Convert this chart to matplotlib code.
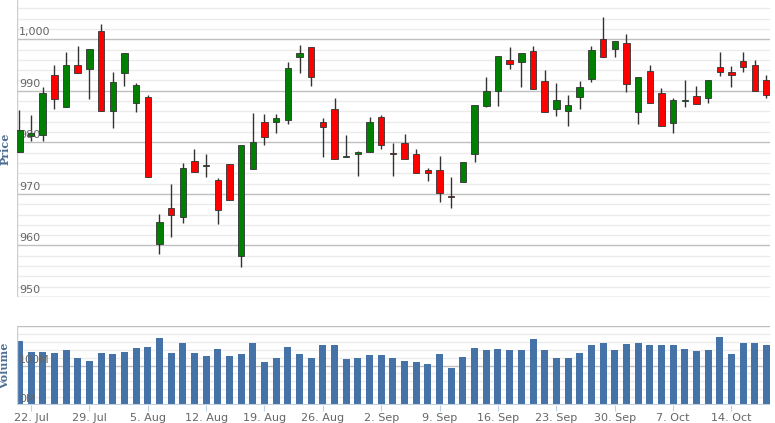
import numpy as np
import matplotlib as mpl
mpl.use('Agg')
import matplotlib.pyplot as plt
import matplotlib.transforms as mtrans

# OHLC, one entry per trading day from 19 Jul
opens = [978.2, 981.3, 981.4, 993.1, 986.8, 994.9, 994.2, 1001.6, 986.1, 993.4,
         987.6, 988.7, 960.3, 967.2, 965.6, 976.4, 975.4, 972.7, 975.8, 957.9,
         974.8, 984.0, 983.9, 984.3, 996.5, 998.4, 983.9, 986.4, 977.2, 977.7,
         978.2, 984.9, 978.0, 979.8, 977.7, 974.6, 974.6, 969.6, 972.4, 977.7,
         987.1, 990.0, 995.9, 995.5, 997.7, 991.8, 986.4, 986.1, 988.7, 992.3,
         1000.0, 998.1, 999.2, 985.8, 993.9, 989.5, 983.7, 988.0, 988.9, 988.5,
         994.6, 993.7, 995.8, 995.0, 992.1]
closes = [982.4, 981.9, 989.5, 988.4, 995.0, 993.4, 998.1, 986.1, 991.7, 997.4,
          991.1, 973.2, 964.5, 965.9, 975.1, 974.3, 975.4, 966.9, 968.8, 979.4,
          980.0, 981.1, 984.7, 994.4, 997.4, 992.6, 982.9, 976.7, 977.2, 978.2,
          984.0, 979.4, 977.7, 976.7, 974.1, 974.1, 970.2, 969.3, 976.1, 987.2,
          990.0, 996.8, 995.2, 997.3, 990.4, 985.8, 988.2, 987.2, 990.8, 997.9,
          996.6, 999.7, 991.3, 992.6, 987.6, 983.2, 988.2, 988.0, 987.4, 992.0,
          993.7, 993.1, 994.7, 990.0, 989.2]
highs = [986.3, 985.3, 990.7, 995.0, 997.6, 998.7, 998.1, 1002.9, 993.6, 997.4,
         991.5, 989.1, 966.1, 972.0, 975.9, 978.7, 977.7, 973.0, 975.8, 979.4,
         985.6, 985.5, 985.5, 995.5, 998.9, 998.4, 984.7, 988.5, 981.4, 978.4,
         984.9, 985.3, 979.9, 981.7, 978.8, 975.1, 977.4, 973.2, 976.1, 987.2,
         992.6, 996.8, 998.4, 997.3, 998.7, 994.0, 991.5, 989.2, 991.8, 998.6,
         1004.4, 999.7, 1001.0, 992.6, 995.0, 990.5, 988.5, 992.1, 990.9, 992.0,
         997.5, 994.8, 997.6, 996.0, 993.1]
lows = [978.2, 980.3, 980.3, 986.5, 986.8, 993.4, 988.4, 986.1, 982.7, 991.0,
        985.8, 973.2, 958.4, 961.7, 964.3, 974.3, 973.3, 964.1, 968.8, 955.9,
        974.8, 979.4, 981.9, 983.5, 993.5, 991.0, 977.2, 976.7, 977.2, 973.5,
        978.2, 978.8, 973.5, 976.7, 974.1, 972.5, 968.5, 967.2, 972.4, 976.1,
        986.8, 987.1, 994.2, 990.7, 990.4, 985.8, 985.1, 983.2, 986.5, 991.7,
        996.6, 996.5, 989.7, 983.6, 987.6, 983.2, 981.9, 986.9, 987.4, 987.7,
        992.8, 990.8, 993.7, 990.0, 988.5]
volume_m = [161, 134, 134, 132, 140, 118, 112, 132, 130, 134,
            144, 148, 170, 132, 157, 132, 124, 142, 124, 130,
            157, 108, 120, 147, 128, 118, 151, 151, 116, 118,
            127, 127, 120, 112, 108, 104, 128, 94, 122, 144,
            138, 142, 140, 140, 166, 140, 118, 120, 132, 152,
            157, 140, 154, 157, 152, 151, 152, 142, 137, 140,
            172, 130, 157, 157, 152]
week_labels = ['22. Jul', '29. Jul', '5. Aug', '12. Aug', '19. Aug', '26. Aug', '2. Sep',
               '9. Sep', '16. Sep', '23. Sep', '30. Sep', '7. Oct', '14. Oct']

x = np.arange(len(opens))
o, c, h, l = map(np.array, (opens, closes, highs, lows))
up = c >= o

fig = plt.figure(figsize=(7.75, 4.23), dpi=100)
ax = fig.add_axes([17/775, 1-297/423, 753/775, 297/423])
axv = fig.add_axes([17/775, 18/423, 753/775, 79/423])

lab_col = '#666666'
for a in (ax, axv):
    for s in a.spines.values():
        s.set_visible(False)
    a.tick_params(left=False, labelleft=False, bottom=False, labelbottom=False)
    a.set_xlim(-0.2, 64.3)

# price panel
ax.set_ylim(950, 1007.6)
for v in np.arange(950, 1008, 2):
    major = v % 10 == 0
    ax.axhline(v, color='#c0c0c0' if major else '#ebebeb', lw=1, zorder=0)
tr = mtrans.blended_transform_factory(ax.transAxes, ax.transData)
for v in range(950, 1001, 10):
    ax.text(0.003, v + 0.4, '{:,}'.format(v), transform=tr, color=lab_col,
            fontsize=8, va='bottom', ha='left')
ax.vlines(x, l, h, color='#333333', lw=1, zorder=2)
body = np.abs(c - o)
body = np.where(body < 0.15, 0.15, body)
ax.bar(x, body, bottom=np.minimum(o, c), width=0.55,
       color=np.where(up, '#008000', '#ff0000'), edgecolor='#333333', lw=0.6, zorder=3)
ax.axvline(-0.2, color='#c0d0e0', lw=1)
ax.text(-12/753, 0.5, 'Price', transform=ax.transAxes, rotation=90, color='#4d6f94',
        fontsize=8, fontweight='bold', ha='center', va='center', family='DejaVu Serif')

# volume panel
axv.set_ylim(0, 200)
for v in range(0, 201, 20):
    axv.axhline(v, color='#c0c0c0' if v % 100 == 0 else '#ebebeb', lw=1, zorder=0)
trv = mtrans.blended_transform_factory(axv.transAxes, axv.transData)
for v in (0, 100):
    axv.text(0.003, v + 2, '{}M'.format(v), transform=trv, color=lab_col,
             fontsize=8, va='bottom', ha='left')
axv.bar(x, volume_m, width=0.6, color='#4572a7', zorder=2)
axv.axvline(-0.2, color='#c0d0e0', lw=1)
axv.axhline(0, color='#c0d0e0', lw=1.5)
axv.text(-12/753, 0.5, 'Volume', transform=axv.transAxes, rotation=90, color='#4d6f94',
         fontsize=8, fontweight='bold', ha='center', va='center', family='DejaVu Serif')
ticks = np.arange(1, len(opens), 5)
axv.tick_params(bottom=True, labelbottom=True, length=4, color='#c0d0e0',
                labelcolor=lab_col, labelsize=8, pad=2)
axv.set_xticks(ticks)
axv.set_xticklabels(week_labels)

fig.savefig('out.png', dpi=100)
